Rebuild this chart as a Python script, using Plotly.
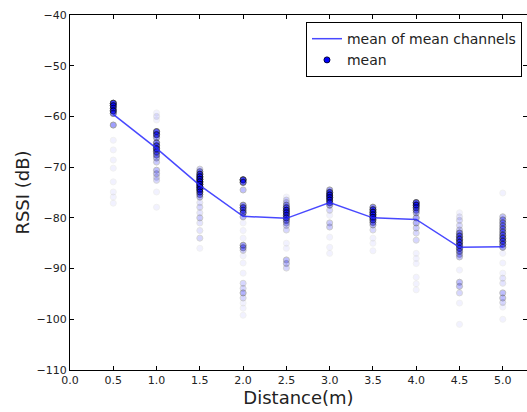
import plotly.graph_objects as go

distances = [0.5, 1.0, 1.5, 2.0, 2.5, 3.0, 3.5, 4.0, 4.5, 5.0]
mean_of_means = [-59.6, -66.3, -73.6, -79.7, -80.1, -77.0, -80.0, -80.3, -85.8, -85.7]

rssi_05 = [-57.4, -57.9, -58.4, -58.9, -59.4, -61.7, -64.7, -66.6, -68.6, -70.2, -72.9, -74.9, -75.9, -77.1]
cnt_05 = [25, 22, 15, 22, 12, 8, 1, 1, 1, 1, 1, 1, 1, 1]
rssi_10 = [-59.3, -60.0, -60.7, -63.0, -63.6, -64.2, -65.2, -65.8, -66.4, -67.0, -67.6, -68.2, -69.0, -70.6, -71.3, -72.0, -72.6, -74.9, -77.9]
cnt_10 = [1, 2, 1, 18, 18, 8, 12, 15, 18, 14, 10, 6, 4, 5, 5, 3, 3, 1, 1]
rssi_15 = [-70.4, -70.9, -71.4, -71.9, -72.4, -72.9, -73.4, -73.9, -74.4, -74.9, -75.4, -75.9, -77.0, -77.9, -79.0, -80.0, -81.0, -82.5, -84.0, -86.0]
cnt_15 = [4, 10, 18, 22, 25, 25, 25, 25, 22, 16, 10, 6, 2, 3, 2, 4, 2, 2, 3, 1]
rssi_20 = [-72.5, -73.0, -74.5, -77.5, -78.0, -78.5, -79.0, -79.8, -81.0, -82.5, -84.0, -85.4, -85.9, -86.4, -87.5, -88.9, -90.9, -92.9, -93.9, -94.8, -95.8, -96.8, -97.8, -99.2]
cnt_20 = [25, 16, 5, 10, 14, 10, 14, 6, 1, 1, 1, 8, 8, 4, 1, 1, 1, 3, 3, 6, 3, 1, 1, 1]
rssi_25 = [-75.9, -76.5, -77.0, -77.5, -78.0, -78.5, -79.0, -79.5, -80.0, -80.5, -81.0, -81.5, -82.4, -85.0, -86.0, -88.3, -89.0, -89.9]
cnt_25 = [1, 3, 4, 8, 14, 18, 18, 15, 14, 10, 6, 4, 3, 1, 1, 5, 5, 3]
rssi_30 = [-74.5, -75.0, -75.5, -76.0, -76.5, -77.0, -77.5, -78.5, -79.5, -81.0, -81.8, -83.8, -85.8, -87.0]
cnt_30 = [8, 18, 22, 22, 18, 14, 8, 3, 1, 4, 4, 1, 1, 1]
rssi_35 = [-77.9, -78.4, -78.9, -79.4, -79.9, -80.4, -80.9, -81.4, -82.4, -84.0, -85.0, -86.5]
cnt_35 = [10, 18, 20, 20, 20, 15, 10, 6, 3, 1, 1, 1]
rssi_40 = [-77.0, -77.5, -78.0, -78.5, -79.0, -80.0, -81.0, -82.0, -83.0, -84.4, -87.0, -88.0, -89.0, -91.7, -93.0, -94.2]
cnt_40 = [20, 20, 14, 10, 7, 7, 6, 4, 3, 3, 1, 1, 1, 1, 1, 1]
rssi_45 = [-79.0, -79.8, -80.5, -81.5, -82.4, -83.0, -83.6, -84.2, -84.8, -85.4, -86.0, -86.6, -87.2, -87.7, -90.3, -92.7, -93.5, -94.8, -96.8, -101.0]
cnt_45 = [1, 2, 3, 3, 4, 10, 14, 16, 16, 16, 14, 10, 6, 5, 1, 5, 5, 3, 1, 1]
rssi_50 = [-75.1, -79.8, -80.4, -81.0, -81.6, -82.2, -82.8, -83.4, -84.0, -84.6, -85.2, -85.8, -87.0, -88.9, -90.9, -91.9, -92.9, -94.8, -95.8, -96.7, -97.6, -100.0]
cnt_50 = [1, 5, 8, 9, 9, 10, 10, 12, 14, 14, 12, 8, 1, 1, 1, 2, 2, 5, 5, 3, 1, 1]

columns = [(rssi_05, cnt_05), (rssi_10, cnt_10), (rssi_15, cnt_15), (rssi_20, cnt_20),
           (rssi_25, cnt_25), (rssi_30, cnt_30), (rssi_35, cnt_35), (rssi_40, cnt_40),
           (rssi_45, cnt_45), (rssi_50, cnt_50)]

xs, ys = [], []
for d, (vals, cnts) in zip(distances, columns):
    for v, c in zip(vals, cnts):
        xs += [d] * c
        ys += [v] * c

fig = go.Figure()
fig.add_trace(go.Scatter(
    x=xs, y=ys, mode="markers", showlegend=False,
    marker=dict(size=6, color="blue", opacity=0.05, line=dict(color="black", width=1)),
))
fig.add_trace(go.Scatter(
    x=distances, y=mean_of_means, mode="lines", name="mean of mean channels",
    line=dict(color="rgba(40,40,255,0.85)", width=1.5), legendrank=1,
))
fig.add_trace(go.Scatter(
    x=[None], y=[None], mode="markers", name="mean", legendrank=2,
    marker=dict(size=6, color="blue", line=dict(color="#000040", width=1)),
))

axis_common = dict(
    showline=True, linecolor="black", linewidth=1.2, mirror="allticks",
    ticks="inside", ticklen=4, tickcolor="black", showgrid=False, zeroline=False,
    tickfont=dict(family="DejaVu Sans", size=11, color="#222"),
)
fig.update_xaxes(range=[0, 5.28], tickvals=[0, 0.5, 1, 1.5, 2, 2.5, 3, 3.5, 4, 4.5, 5],
                 tickformat=".1f",
                 title=dict(text="Distance(m)", font=dict(family="DejaVu Sans", size=18, color="#222"), standoff=2),
                 **axis_common)
fig.update_yaxes(range=[-110, -40], dtick=10,
                 title=dict(text="RSSI (dB)", font=dict(family="DejaVu Sans", size=18, color="#222"), standoff=2),
                 **axis_common)

fig.update_layout(
    width=527, height=412,
    margin=dict(l=70, r=0, t=15, b=42),
    plot_bgcolor="white", paper_bgcolor="white",
    font=dict(family="DejaVu Sans", color="#222"),
    legend=dict(x=0.989, y=0.98, xanchor="right", yanchor="top",
                bordercolor="black", borderwidth=1, bgcolor="white",
                font=dict(size=14), tracegroupgap=0),
)

fig.write_html("out.html")
